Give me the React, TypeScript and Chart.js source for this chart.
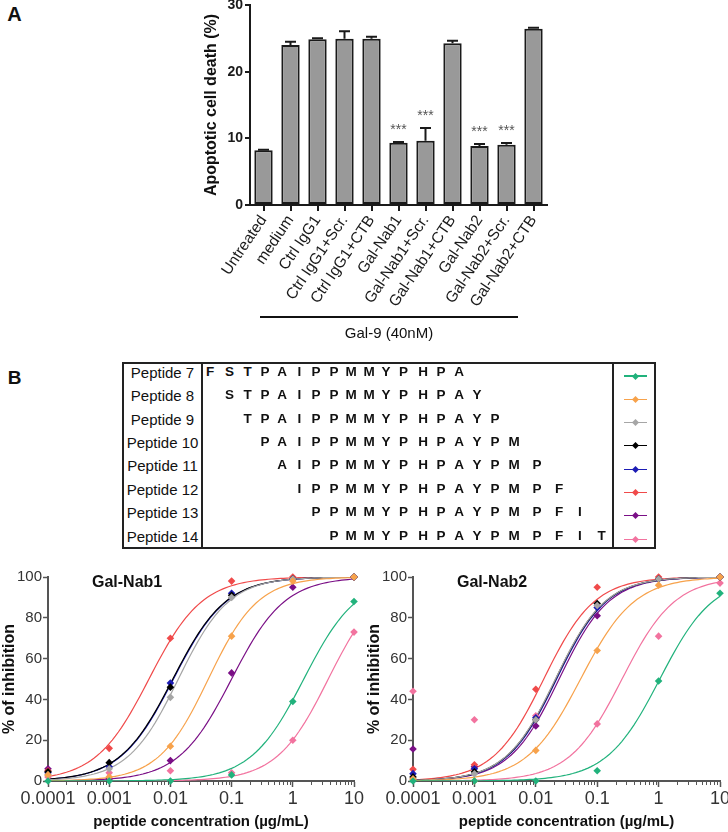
import React, { useEffect, useRef } from 'react';
import { Chart, registerables } from 'chart.js';

Chart.register(...registerables);

const FONT = '"Liberation Sans", Arial, Helvetica, sans-serif';

// ---------- Panel A data ----------
const treatmentLabels = [
  'Untreated', 'medium', 'Ctrl IgG1', 'Ctrl IgG1+Scr.', 'Ctrl IgG1+CTB',
  'Gal-Nab1', 'Gal-Nab1+Scr.', 'Gal-Nab1+CTB', 'Gal-Nab2', 'Gal-Nab2+Scr.', 'Gal-Nab2+CTB',
];
const apoptosisMean = [8.2, 24.0, 24.85, 24.95, 24.95, 9.35, 9.65, 24.25, 8.85, 9.05, 26.45];
const apoptosisErr = [0.1, 0.5, 0.15, 1.1, 0.3, 0.1, 1.9, 0.4, 0.3, 0.25, 0.15];
const significance = ['', '', '', '', '', '***', '***', '', '***', '***', ''];
const treatmentGroupLabel = 'Gal-9 (40nM)';

// ---------- Panel B data ----------
const peptideNames = ['Peptide 7', 'Peptide 8', 'Peptide 9', 'Peptide 10', 'Peptide 11', 'Peptide 12', 'Peptide 13', 'Peptide 14'];
const peptideSequences = [
  'FSTPAIPPMMYPHPA', 'STPAIPPMMYPHPAY', 'TPAIPPMMYPHPAYP', 'PAIPPMMYPHPAYPM',
  'AIPPMMYPHPAYPMP', 'IPPMMYPHPAYPMPF', 'PPMMYPHPAYPMPFI', 'PMMYPHPAYPMPFIT',
];
const peptideStartColumn = [0, 1, 2, 3, 4, 5, 6, 7];
const peptideColors = ['#21b27c', '#f7a24b', '#a6a6a6', '#000000', '#1c1cb4', '#f04a4a', '#7a0f86', '#f2739f'];

const concentrations = [0.0001, 0.001, 0.01, 0.1, 1, 10];
const concentrationLabels = ['0.0001', '0.001', '0.01', '0.1', '1', '10'];

// Gal-Nab1: % of inhibition per peptide at each concentration
const nab1Pep7 = [0, 0, 0, 3, 39, 88];
const nab1Pep8 = [3, 2, 17, 71, 98, 100];
const nab1Pep9 = [3, 6, 41, 90, 99, 100];
const nab1Pep10 = [4.5, 9, 46, 91, 99, 100];
const nab1Pep11 = [4, 7, 48, 92, 99, 100];
const nab1Pep12 = [5, 16, 70, 98, 100, 100];
const nab1Pep13 = [6, 1, 10, 53, 95, 100];
const nab1Pep14 = [2, 4, 5, 4, 20, 73];
// Gal-Nab1 fitted curves (log EC50, Hill slope)
const nab1LogEC50 = [0.18, -1.38, -1.87, -1.96, -1.95, -2.35, -1.0, 0.58];
const nab1Hill = [1.0, 1.07, 1.05, 1.0, 1.0, 1.0, 1.0, 1.03];

// Gal-Nab2: % of inhibition per peptide at each concentration
const nab2Pep7 = [0, 0, 0, 5, 49, 92];
const nab2Pep8 = [1, 0, 15, 64, 96, 100];
const nab2Pep9 = [1, 3.5, 30, 86, 99, 100];
const nab2Pep10 = [2, 4.5, 30, 87, 99, 100];
const nab2Pep11 = [3.6, 6, 31, 85, 99, 100];
const nab2Pep12 = [5.7, 8, 45, 95, 100, 100];
const nab2Pep13 = [15.7, 7, 27, 81, 99, 100];
const nab2Pep14 = [44, 30, 32, 28, 71, 97];
// Gal-Nab2 fitted curves (log EC50, Hill slope)
const nab2LogEC50 = [0.02, -1.27, -1.68, -1.675, -1.66, -1.87, -1.62, -0.595];
const nab2Hill = [1.0, 0.99, 1.07, 1.07, 1.07, 1.05, 1.07, 1.01];

const nab1Series = [nab1Pep7, nab1Pep8, nab1Pep9, nab1Pep10, nab1Pep11, nab1Pep12, nab1Pep13, nab1Pep14];
const nab2Series = [nab2Pep7, nab2Pep8, nab2Pep9, nab2Pep10, nab2Pep11, nab2Pep12, nab2Pep13, nab2Pep14];

// ---------- layout constants ----------
const seqColX = [210, 229.5, 247.5, 265, 282, 299.5, 316, 334, 351, 369, 386, 403.6, 423, 441, 459, 477, 495, 514, 537, 559, 580, 601.5];

const errorBarPlugin = {
  id: 'errorBars',
  afterDatasetsDraw(chart: any) {
    const meta = chart.getDatasetMeta(0);
    const ys = chart.scales.y;
    const ctx = chart.ctx;
    ctx.save();
    ctx.strokeStyle = '#1a1a1a';
    ctx.lineWidth = 2;
    meta.data.forEach((bar: any, i: number) => {
      const top = ys.getPixelForValue(apoptosisMean[i] + apoptosisErr[i]);
      ctx.beginPath();
      ctx.moveTo(bar.x, bar.y);
      ctx.lineTo(bar.x, top);
      ctx.moveTo(bar.x - 5.5, top);
      ctx.lineTo(bar.x + 5.5, top);
      ctx.stroke();
      if (significance[i]) {
        ctx.fillStyle = '#555';
        ctx.font = `14px ${FONT}`;
        ctx.textAlign = 'center';
        ctx.textBaseline = 'alphabetic';
        ctx.fillText(significance[i], bar.x, top - 8);
      }
    });
    ctx.restore();
  },
};

function isDecade(v: number) {
  const l = Math.log10(v);
  return Math.abs(l - Math.round(l)) < 1e-6;
}

const doseDecorPlugin = {
  id: 'doseDecor',
  afterDraw(chart: any) {
    const ctx = chart.ctx;
    const xs = chart.scales.x;
    const area = chart.chartArea;
    ctx.save();
    ctx.strokeStyle = '#555';
    ctx.lineWidth = 1;
    for (let e = -4; e <= 0; e++) {
      for (let k = 2; k <= 9; k++) {
        const px = Math.round(xs.getPixelForValue(k * Math.pow(10, e))) + 0.5;
        ctx.beginPath();
        ctx.moveTo(px, area.bottom);
        ctx.lineTo(px, area.bottom + 4);
        ctx.stroke();
      }
    }
    const title = chart.options.plugins.doseDecor.title;
    ctx.fillStyle = '#111';
    ctx.font = `bold 16px ${FONT}`;
    ctx.textAlign = 'left';
    ctx.textBaseline = 'alphabetic';
    ctx.fillText(title, area.left + 44, area.top + 10);
    ctx.restore();
  },
};

function fittedCurve(logEC50: number, hill: number) {
  const pts: { x: number; y: number }[] = [];
  for (let i = 0; i <= 100; i++) {
    const lx = -4 + i * 0.05;
    pts.push({ x: Math.pow(10, lx), y: 100 / (1 + Math.pow(10, (logEC50 - lx) * hill)) });
  }
  return pts;
}

function buildDoseChart(canvas: HTMLCanvasElement, series: number[][], ec50: number[], hill: number[], title: string, padRight: number) {
  const pointSets = series.map((vals, i) => ({
    data: concentrations.map((c, j) => ({ x: c, y: vals[j] })),
    pointStyle: 'rectRot',
    pointRadius: 3.8,
    backgroundColor: peptideColors[i],
    borderColor: peptideColors[i],
    borderWidth: 0,
    showLine: false,
    clip: false,
    order: 0,
  }));
  const curveSets = series.map((_, i) => ({
    data: fittedCurve(ec50[i], hill[i]),
    showLine: true,
    pointRadius: 0,
    borderColor: peptideColors[i],
    borderWidth: 1.2,
    fill: false,
    order: 1,
  }));
  return new Chart(canvas, {
    type: 'scatter',
    data: { datasets: [...pointSets, ...curveSets] as any },
    options: {
      animation: false,
      responsive: false,
      events: [],
      layout: { padding: { left: 0, top: 22, right: padRight, bottom: 0 } },
      plugins: {
        legend: { display: false },
        tooltip: { enabled: false },
        doseDecor: { title },
      } as any,
      scales: {
        x: {
          type: 'logarithmic',
          min: 0.0001,
          max: 10,
          border: { display: true, color: '#555', width: 2 },
          grid: {
            display: true,
            drawOnChartArea: false,
            drawTicks: true,
            tickLength: 6,
            tickWidth: 1.5,
            tickColor: (ctx: any) => (ctx.tick && isDecade(ctx.tick.value) ? '#555' : 'rgba(0,0,0,0)'),
          },
          ticks: {
            autoSkip: false,
            maxRotation: 0,
            minRotation: 0,
            padding: 1,
            color: '#333',
            font: { family: FONT, size: 18 },
            callback: (v: any) => {
              const n = Number(v);
              if (!isDecade(n)) return '';
              return concentrationLabels[Math.round(Math.log10(n)) + 4];
            },
          },
          title: {
            display: true,
            text: 'peptide concentration (µg/mL)',
            color: '#111',
            font: { family: FONT, size: 15, weight: 'bold' },
            padding: { top: 0, bottom: 1 },
          },
          afterFit: (s: any) => { s.height = 51; s.paddingLeft = 0; s.paddingRight = 0; },
        },
        y: {
          min: 0,
          max: 100,
          border: { display: true, color: '#555', width: 2 },
          grid: { display: true, drawOnChartArea: false, tickLength: 5, tickWidth: 1.5, tickColor: '#555' },
          ticks: { stepSize: 20, padding: 1, color: '#333', font: { family: FONT, size: 15 } },
          title: {
            display: true,
            text: '% of inhibition',
            color: '#111',
            font: { family: FONT, size: 16, weight: 'bold' },
            padding: { top: 0, bottom: 0 },
          },
          afterFit: (s: any) => { s.width = 48; s.paddingTop = 0; s.paddingBottom = 0; },
        },
      } as any,
    },
    plugins: [doseDecorPlugin],
  });
}

function BarChartA() {
  const ref = useRef<HTMLCanvasElement>(null);
  useEffect(() => {
    const chart = new Chart(ref.current as HTMLCanvasElement, {
      type: 'bar',
      data: {
        labels: treatmentLabels,
        datasets: [{
          data: apoptosisMean,
          backgroundColor: '#999999',
          borderColor: '#1a1a1a',
          borderWidth: 2,
          borderSkipped: false,
          barPercentage: 0.68,
          categoryPercentage: 1,
        } as any],
      },
      options: {
        animation: false,
        responsive: false,
        events: [],
        layout: { padding: { left: 52, top: 5, right: 13, bottom: 0 } },
        plugins: { legend: { display: false }, tooltip: { enabled: false } },
        scales: {
          x: {
            offset: true,
            border: { display: true, color: '#1a1a1a', width: 2 },
            grid: { display: true, drawOnChartArea: false, offset: false, tickLength: 6, color: '#1a1a1a', lineWidth: 2 },
            ticks: { minRotation: 56, maxRotation: 56, autoSkip: false, padding: 1, color: '#1a1a1a', font: { family: FONT, size: 15.5 } },
            afterFit: (s: any) => { s.height = 125; s.paddingLeft = 0; s.paddingRight = 0; },
          },
          y: {
            min: 0,
            max: 30,
            border: { display: true, color: '#1a1a1a', width: 2 },
            grid: { display: true, drawOnChartArea: false, tickLength: 5, color: '#1a1a1a', lineWidth: 2 },
            ticks: { stepSize: 10, padding: 2, color: '#1a1a1a', font: { family: FONT, size: 14, weight: 'bold' } },
            title: {
              display: true,
              text: 'Apoptotic cell death (%)',
              color: '#111',
              font: { family: FONT, size: 16, weight: 'bold' },
              padding: { top: 0, bottom: 0 },
            },
            afterFit: (s: any) => { s.width = 48; s.paddingTop = 0; s.paddingBottom = 0; },
          },
        } as any,
      },
      plugins: [errorBarPlugin],
    });
    return () => chart.destroy();
  }, []);
  return <canvas ref={ref} width={410} height={330} style={{ position: 'absolute', left: 150, top: 0, width: 410, height: 330 }} />;
}

function DoseChart(props: { series: number[][]; ec50: number[]; hill: number[]; title: string; left: number; width: number; padRight: number }) {
  const ref = useRef<HTMLCanvasElement>(null);
  useEffect(() => {
    const chart = buildDoseChart(ref.current as HTMLCanvasElement, props.series, props.ec50, props.hill, props.title, props.padRight);
    return () => chart.destroy();
  }, []);
  return <canvas ref={ref} width={props.width} height={277} style={{ position: 'absolute', left: props.left, top: 555, width: props.width, height: 277 }} />;
}

function Txt(props: { x: number; y: number; size: number; bold?: boolean; children: React.ReactNode; color?: string }) {
  return (
    <div style={{
      position: 'absolute', left: props.x, top: props.y, transform: 'translate(-50%, -50%)',
      fontFamily: FONT, fontSize: props.size, fontWeight: props.bold ? 'bold' : 'normal',
      lineHeight: 1, whiteSpace: 'nowrap', color: props.color || '#111',
    }}>{props.children}</div>
  );
}

function PeptideTable() {
  const rowY = (i: number) => 371.7 + i * 23.4;
  const legendY = (i: number) => 376 + i * 23.3;
  return (
    <>
      <div style={{ position: 'absolute', left: 122, top: 361.5, width: 534, height: 187, border: '2px solid #222', boxSizing: 'border-box' }} />
      <div style={{ position: 'absolute', left: 200.5, top: 361.5, width: 2, height: 187, background: '#222' }} />
      <div style={{ position: 'absolute', left: 611.5, top: 361.5, width: 2, height: 187, background: '#222' }} />
      {peptideNames.map((name, i) => (
        <Txt key={'n' + i} x={162.5} y={rowY(i)} size={15}>{name}</Txt>
      ))}
      {peptideSequences.map((seq, i) =>
        seq.split('').map((ch, j) => (
          <Txt key={'s' + i + '-' + j} x={seqColX[peptideStartColumn[i] + j]} y={rowY(i)} size={13.5} bold>{ch}</Txt>
        )),
      )}
      {peptideColors.map((c, i) => (
        <React.Fragment key={'l' + i}>
          <div style={{ position: 'absolute', left: 624, top: legendY(i) - 0.6, width: 23, height: 1.2, background: c }} />
          <div style={{ position: 'absolute', left: 635.5 - 2.5, top: legendY(i) - 2.5, width: 5, height: 5, background: c, transform: 'rotate(45deg)' }} />
        </React.Fragment>
      ))}
    </>
  );
}

export default function App() {
  return (
    <div style={{ position: 'absolute', left: 0, top: 0, width: 728, height: 832, background: '#fff', overflow: 'hidden', fontFamily: FONT }}>
      <Txt x={14.5} y={14} size={20} bold>A</Txt>
      <BarChartA />
      <div style={{ position: 'absolute', left: 260, top: 316, width: 258, height: 1.5, background: '#111' }} />
      <Txt x={389} y={332} size={15}>{treatmentGroupLabel}</Txt>
      <Txt x={14.5} y={377} size={19} bold>B</Txt>
      <PeptideTable />
      <DoseChart series={nab1Series} ec50={nab1LogEC50} hill={nab1Hill} title="Gal-Nab1" left={0} width={364} padRight={10} />
      <DoseChart series={nab2Series} ec50={nab2LogEC50} hill={nab2Hill} title="Gal-Nab2" left={365} width={363} padRight={8} />
    </div>
  );
}
